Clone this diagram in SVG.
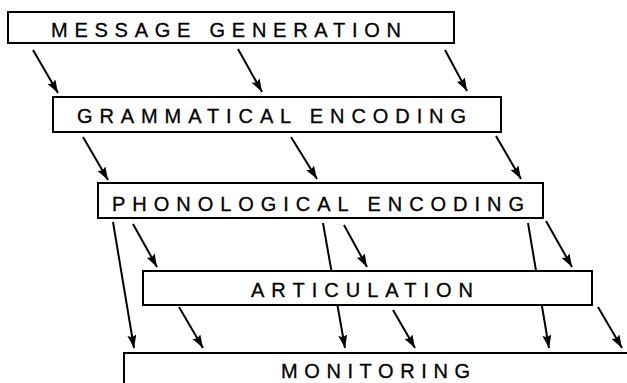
<svg xmlns="http://www.w3.org/2000/svg" width="627" height="383" viewBox="0 0 627 383">
  <style>
    .box { fill: #ffffff; stroke: #000000; stroke-width: 2; }
    .lbl { font-family: "Liberation Sans", Arial, Helvetica, sans-serif; font-size: 20px; fill: #000000; stroke: #000000; stroke-width: 0.3; }
    .arr { stroke: #000000; stroke-width: 2; fill: none; marker-end: url(#head); }
  </style>
  <defs>
    <marker id="head" markerUnits="userSpaceOnUse" markerWidth="14" markerHeight="10" refX="13" refY="4.5" orient="auto">
      <path d="M0,0 L13,4.5 L0,9 L2,4.5 Z" fill="#000000"/>
    </marker>
  </defs>
  <rect width="627" height="383" fill="#ffffff"/>

  <g id="connectors">
    <path class="arr" d="M33,50 L58,93"/>
    <path class="arr" d="M238,49 L262,92"/>
    <path class="arr" d="M445,50 L467,91"/>
    <path class="arr" d="M83,137 L108,180"/>
    <path class="arr" d="M291,137 L317,179"/>
    <path class="arr" d="M496,136 L521,179"/>
    <path class="arr" d="M113,222 L134,348"/>
    <path class="arr" d="M133,224 L157,267"/>
    <path class="arr" d="M323,223 L345,348"/>
    <path class="arr" d="M344,225 L367,267"/>
    <path class="arr" d="M528,223 L549,348"/>
    <path class="arr" d="M546,221 L572,267"/>
    <path class="arr" d="M179,307 L203,348"/>
    <path class="arr" d="M393,310 L415,348"/>
    <path class="arr" d="M598,307 L622,348"/>
  </g>

  <g id="message-generation">
    <rect class="box" x="8" y="12" width="446" height="31"/>
    <text class="lbl" x="51" y="37" textLength="350" lengthAdjust="spacing">MESSAGE GENERATION</text>
  </g>
  <g id="grammatical-encoding">
    <rect class="box" x="53" y="97" width="448" height="35"/>
    <text class="lbl" x="77" y="123" textLength="389" lengthAdjust="spacing">GRAMMATICAL ENCODING</text>
  </g>
  <g id="phonological-encoding">
    <rect class="box" x="98" y="183" width="445" height="35"/>
    <text class="lbl" x="112" y="211" textLength="412" lengthAdjust="spacing">PHONOLOGICAL ENCODING</text>
  </g>
  <g id="articulation">
    <rect class="box" x="143" y="271" width="449" height="34"/>
    <text class="lbl" x="251" y="297" textLength="222" lengthAdjust="spacing">ARTICULATION</text>
  </g>
  <g id="monitoring">
    <rect class="box" x="124" y="353" width="520" height="60"/>
    <text class="lbl" x="281" y="378" textLength="189" lengthAdjust="spacing">MONITORING</text>
  </g>
</svg>
